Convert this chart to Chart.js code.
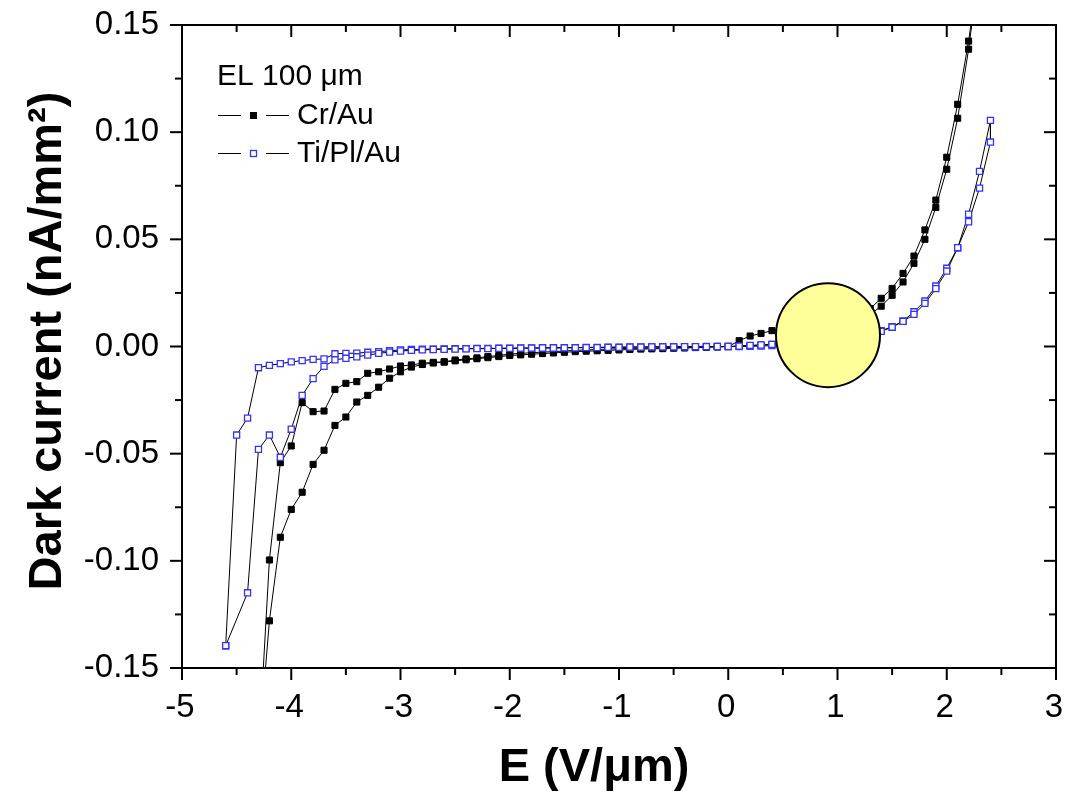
<!DOCTYPE html>
<html>
<head>
<meta charset="utf-8">
<title>Dark current vs field</title>
<script src="https://cdn.jsdelivr.net/npm/chart.js@4.4.1/dist/chart.umd.min.js"></script>
<style>
  html, body { margin: 0; padding: 0; background: #fff; }
</style>
</head>
<body>
<canvas id="iv" width="1068" height="794"></canvas>
<script>
// field grid on the negative side (V/um)
const eNeg = [-4.6, -4.5, -4.4, -4.3, -4.2, -4.1, -4.0, -3.9, -3.8, -3.7, -3.6, -3.5, -3.4, -3.3, -3.2, -3.1,
  -3.0, -2.9, -2.8, -2.7, -2.6, -2.5, -2.4, -2.3, -2.2, -2.1, -2.0, -1.9, -1.8, -1.7, -1.6, -1.5, -1.4,
  -1.3, -1.2, -1.1, -1.0, -0.9, -0.8, -0.7, -0.6, -0.5, -0.4, -0.3, -0.2, -0.1, 0];

// Cr/Au, negative side, -4.2 .. 0
const crNegInner = [-0.0996, -0.0542, -0.0464, -0.0262, -0.0304, -0.0301, -0.0200, -0.0172, -0.0164, -0.0125,
  -0.0118, -0.0105, -0.0091, -0.0086, -0.0078, -0.0074, -0.0071, -0.0063, -0.0058, -0.0053, -0.0047, -0.0042,
  -0.0035, -0.0032, -0.0029, -0.0026, -0.0024, -0.0021, -0.0018, -0.0016, -0.0014, -0.0012, -0.0010, -0.0009,
  -0.0008, -0.0007, -0.0006, -0.0005, -0.0004, -0.0003, -0.0002, -0.0001, 0];
const crNegOuter = [-0.128, -0.089, -0.076, -0.068, -0.055, -0.0484, -0.0368, -0.0329, -0.0259, -0.0228,
  -0.0190, -0.0148, -0.0118, -0.0096, -0.0084, -0.0077, -0.0073, -0.0067, -0.0062, -0.0057, -0.0052, -0.0047,
  -0.0042, -0.0039, -0.0036, -0.0033, -0.0030, -0.0027, -0.0024, -0.0022, -0.0020, -0.0018, -0.0016, -0.0014,
  -0.0012, -0.0011, -0.0010, -0.0008, -0.0007, -0.0005, -0.0004, -0.0002, 0];
// Cr/Au, positive side
const crPosX = [0.1, 0.2, 0.3, 0.4, 1.3, 1.4, 1.5, 1.6, 1.7, 1.8, 1.9, 2.0, 2.1, 2.2];
const crPosUp = [0.0027, 0.0049, 0.0061, 0.0074, 0.0177, 0.0225, 0.0271, 0.0341, 0.0422, 0.0544, 0.0683, 0.0883, 0.1130, 0.1425];
const crPosDown = [0.0002, 0.0004, 0.0007, 0.0010, 0.0150, 0.0188, 0.0239, 0.0301, 0.0388, 0.0500, 0.0649, 0.0827, 0.1065, 0.1387];
// turning points (off the plot)
const crTurnX = [2.3, -4.3];
const crTurnY = [0.178, -0.19];

// Ti/Pl/Au, negative side
const tiNegOuter = [-0.1396, -0.0413, -0.0334, -0.0099, -0.0088, -0.0080, -0.0072, -0.0066, -0.0060, -0.0058,
  -0.0034, -0.0032, -0.0031, -0.0027, -0.0024, -0.0020, -0.0016, -0.0014, -0.0013, -0.0012, -0.0011, -0.0010,
  -0.0010, -0.0009, -0.0009, -0.0008, -0.0008, -0.0007, -0.0007, -0.0006, -0.0006, -0.0005, -0.0005, -0.0004,
  -0.0004, -0.0003, -0.0003, -0.0002, -0.0002, -0.0002, -0.0001, -0.0001, -0.0001, -0.0001, 0, 0, 0];
const tiNegInner = [-0.1149, -0.0480, -0.0413, -0.0517, -0.0386, -0.0228, -0.0150, -0.0093, -0.0062, -0.0055,
  -0.0048, -0.0040, -0.0032, -0.0026, -0.0021, -0.0018, -0.0016, -0.0014, -0.0013, -0.0012, -0.0011, -0.0010,
  -0.0010, -0.0009, -0.0009, -0.0008, -0.0008, -0.0007, -0.0007, -0.0006, -0.0006, -0.0005, -0.0005, -0.0004,
  -0.0004, -0.0003, -0.0003, -0.0002, -0.0002, -0.0002, -0.0001, -0.0001, -0.0001, 0, 0];
// Ti/Pl/Au, positive side
const tiPosX = [0.1, 0.2, 0.3, 0.4, 1.4, 1.5, 1.6, 1.7, 1.8, 1.9, 2.0, 2.1, 2.2, 2.3, 2.4];
const tiPosUp = [0.0000, 0.0001, 0.0002, 0.0004, 0.0074, 0.0092, 0.0119, 0.0162, 0.0212, 0.0282, 0.0365, 0.0461, 0.0617, 0.0817, 0.1055];
const tiPosDown = [0.0002, 0.0005, 0.0007, 0.0010, 0.0071, 0.0090, 0.0117, 0.0150, 0.0201, 0.0270, 0.0352, 0.0461, 0.0582, 0.0739, 0.0954];

// marked region
const spotX = [0.913];
const spotY = [0.0053];

// axes
const xTicks = [-5, -4, -3, -2, -1, 0, 1, 2, 3];
const xMinor = [-4.5, -3.5, -2.5, -1.5, -0.5, 0.5, 1.5, 2.5];
const yTicks = [-0.15, -0.10, -0.05, 0.00, 0.05, 0.10, 0.15];
const yTickLabels = ['-0.15', '-0.10', '-0.05', '0.00', '0.05', '0.10', '0.15'];
const yMinor = [-0.125, -0.075, -0.025, 0.025, 0.075, 0.125];

// pair y values with the right end of an x list
function branch(xs, ys) {
  const off = xs.length - ys.length;
  return ys.map((y, i) => ({ x: xs[off + i], y: y }));
}

const crPath = [].concat(
  [{ x: crTurnX[1], y: crTurnY[1] }],
  branch(eNeg, crNegOuter),
  branch(crPosX, crPosUp),
  [{ x: crTurnX[0], y: crTurnY[0] }],
  branch(crPosX, crPosDown).reverse(),
  branch(eNeg, crNegInner).reverse(),
  [{ x: crTurnX[1], y: crTurnY[1] }]
);

const tiA = branch(eNeg, tiNegOuter);
const tiPath = [].concat(
  tiA,
  branch(tiPosX, tiPosUp),
  branch(tiPosX, tiPosDown).reverse(),
  branch(eNeg, tiNegInner).reverse(),
  [tiA[0]]
);

const FONT = '"Liberation Sans", Arial, sans-serif';
const BLUE = '#3333ff';

function line(ctx, x1, y1, x2, y2) {
  ctx.beginPath();
  ctx.moveTo(x1, y1);
  ctx.lineTo(x2, y2);
  ctx.stroke();
}

// frame, origin-style ticks, labels and legend
const framePlugin = {
  id: 'frame',
  afterDatasetsDraw(chart) {
    const ctx = chart.ctx;
    const a = chart.chartArea;
    const xs = chart.scales.x, ys = chart.scales.y;
    ctx.save();
    ctx.strokeStyle = '#000';
    ctx.lineWidth = 2;
    ctx.strokeRect(a.left, a.top, a.right - a.left, a.bottom - a.top);

    xTicks.forEach(v => {
      const p = xs.getPixelForValue(v);
      line(ctx, p, a.bottom, p, a.bottom + 12);
      line(ctx, p, a.top, p, a.top + 12);
    });
    xMinor.forEach(v => {
      const p = xs.getPixelForValue(v);
      line(ctx, p, a.bottom, p, a.bottom + 7);
      line(ctx, p, a.top, p, a.top + 7);
    });
    yTicks.forEach(v => {
      const p = ys.getPixelForValue(v);
      line(ctx, a.left - 12, p, a.left, p);
      line(ctx, a.right - 12, p, a.right, p);
    });
    yMinor.forEach(v => {
      const p = ys.getPixelForValue(v);
      line(ctx, a.left - 7, p, a.left, p);
      line(ctx, a.right - 7, p, a.right, p);
    });

    ctx.fillStyle = '#000';
    ctx.font = '33px ' + FONT;
    ctx.textBaseline = 'middle';
    ctx.textAlign = 'center';
    xTicks.forEach(v => {
      ctx.fillText(String(v), xs.getPixelForValue(v) - 2, a.bottom + 40);
    });
    ctx.textAlign = 'right';
    yTicks.forEach((v, i) => {
      ctx.fillText(yTickLabels[i], a.left - 23, ys.getPixelForValue(v));
    });

    // axis titles
    ctx.font = 'bold 47px ' + FONT;
    ctx.textAlign = 'center';
    ctx.textBaseline = 'alphabetic';
    ctx.fillText('E (V/\u03bcm)', 594, 781);
    ctx.save();
    ctx.translate(61, 341);
    ctx.rotate(-Math.PI / 2);
    ctx.fillText('Dark current (nA/mm\u00b2)', 0, 0);
    ctx.restore();

    // legend
    ctx.font = '30px ' + FONT;
    ctx.textAlign = 'left';
    ctx.textBaseline = 'middle';
    ctx.fillText('EL 100 \u03bcm', 217, 77);
    ctx.lineWidth = 1;
    [115, 153].forEach((y, i) => {
      line(ctx, 218, y + 0.5, 241, y + 0.5);
      line(ctx, 266, y + 0.5, 289, y + 0.5);
      if (i === 0) {
        ctx.fillStyle = '#000';
        ctx.fillRect(250, y - 3, 7, 7);
      } else {
        ctx.fillStyle = '#fff';
        ctx.fillRect(250, y - 3, 7, 7);
        ctx.strokeStyle = BLUE;
        ctx.lineWidth = 1.3;
        ctx.strokeRect(250.5, y - 2.5, 6, 6);
        ctx.lineWidth = 1;
        ctx.strokeStyle = '#000';
      }
      ctx.fillStyle = '#000';
      ctx.fillText(i === 0 ? 'Cr/Au' : 'Ti/Pl/Au', 297, y + 1);
    });
    ctx.restore();
  }
};

new Chart(document.getElementById('iv'), {
  type: 'scatter',
  data: {
    datasets: [
      {
        label: 'spot',
        data: spotX.map((x, i) => ({ x: x, y: spotY[i] })),
        pointRadius: 52,
        pointHoverRadius: 52,
        pointBackgroundColor: '#ffff99',
        pointBorderColor: '#000',
        pointBorderWidth: 2,
        order: 0,
        clip: false
      },
      {
        label: 'Ti/Pl/Au',
        data: tiPath,
        showLine: true,
        borderColor: '#000',
        borderWidth: 1,
        pointStyle: 'rect',
        pointRadius: 4.3,
        pointBackgroundColor: '#fff',
        pointBorderColor: BLUE,
        pointBorderWidth: 1.3,
        order: 1,
        clip: 0
      },
      {
        label: 'Cr/Au',
        data: crPath,
        showLine: true,
        borderColor: '#000',
        borderWidth: 1,
        pointStyle: 'rect',
        pointRadius: 4.3,
        pointBackgroundColor: '#000',
        pointBorderColor: '#000',
        pointBorderWidth: 1,
        order: 2,
        clip: 0
      }
    ]
  },
  options: {
    responsive: false,
    animation: false,
    events: [],
    layout: { autoPadding: false, padding: { top: 25, right: 12, left: 0, bottom: 0 } },
    plugins: { legend: { display: false }, tooltip: { enabled: false } },
    scales: {
      x: {
        type: 'linear', min: -5, max: 3,
        ticks: { display: false },
        grid: { display: false },
        border: { display: false },
        afterFit(scale) { scale.height = 126; }
      },
      y: {
        type: 'linear', min: -0.15, max: 0.15,
        ticks: { display: false },
        grid: { display: false },
        border: { display: false },
        afterFit(scale) { scale.width = 182; }
      }
    }
  },
  plugins: [framePlugin]
});
</script>
</body>
</html>
